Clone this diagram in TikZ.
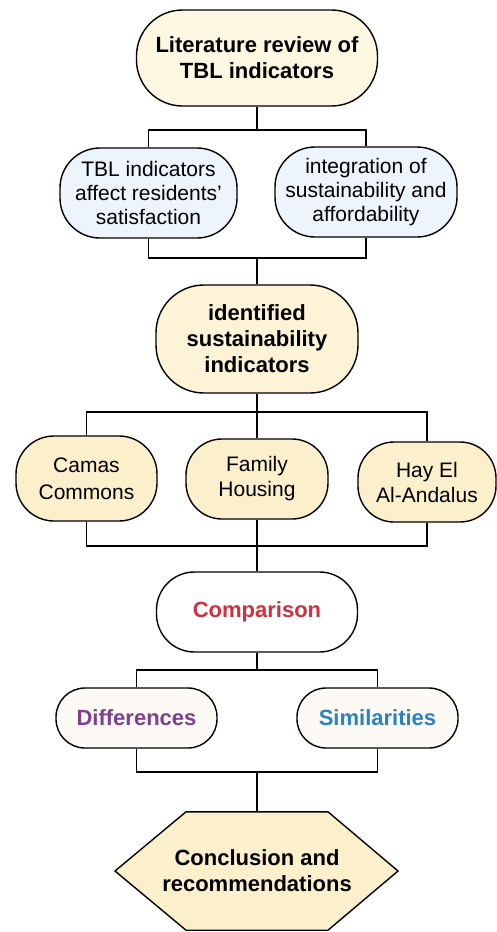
\documentclass[tikz,border=0pt]{standalone}
\usepackage{fontspec}
\setmainfont{Liberation Sans}
\usetikzlibrary{calc,backgrounds}

\definecolor{creamfill}{HTML}{FEF7E2}
\definecolor{bluefill}{HTML}{EEF4FB}
\definecolor{wheatfill}{HTML}{FDF3D6}
\definecolor{sandfill}{HTML}{FCEFCB}
\definecolor{palefill}{HTML}{FDF9F4}
\definecolor{cmpred}{HTML}{D0303F}
\definecolor{diffpurple}{HTML}{7E3F8E}
\definecolor{simblue}{HTML}{2A82C2}

\tikzset{
  pill/.style={draw=black, line width=1.4pt, align=center, inner sep=0pt},
  link/.style={draw=black, line width=1.8pt},
  txt/.style={font=\fontsize{21}{25}\selectfont},
  tighttxt/.style={font=\fontsize{21}{24}\selectfont},
  loosetxt/.style={font=\fontsize{21}{27}\selectfont},
  btxt/.style={font=\fontsize{22}{26}\selectfont\bfseries},
}

\begin{document}
\begin{tikzpicture}[x=1pt,y=1pt]
\useasboundingbox (0,0) rectangle (497,-932);

% stage 1: literature review
\node[pill, fill=creamfill, btxt, minimum width=241, minimum height=96,
      rounded corners=46] (lit) at (257,-58) {Literature review of\\TBL indicators};

% stage 2: two review strands
\node[pill, fill=bluefill, tighttxt, minimum width=177, minimum height=90,
      rounded corners=40] (tbl) at (148.5,-193) {TBL indicators\\affect residents'\\satisfaction};
\node[pill, fill=bluefill, tighttxt, minimum width=182, minimum height=90,
      rounded corners=40] (integ) at (366,-192) {integration of\\sustainability and\\affordability};

% stage 3: identified indicators
\node[pill, fill=wheatfill, btxt, minimum width=202, minimum height=108,
      rounded corners=48] (ident) at (257,-339) {identified\\sustainability\\indicators};

% stage 4: case studies
\node[pill, fill=sandfill, loosetxt, minimum width=141, minimum height=85,
      rounded corners=38] (camas) at (86.5,-478.5) {Camas\\Commons};
\node[pill, fill=sandfill, txt, minimum width=142, minimum height=80,
      rounded corners=36] (family) at (257,-479) {Family\\Housing};
\node[pill, fill=sandfill, txt, minimum width=138, minimum height=80,
      rounded corners=36] (hay) at (427,-482) {Hay El\\Al-Andalus};

% stage 5: comparison
\node[pill, fill=white, btxt, text=cmpred, minimum width=201, minimum height=80,
      rounded corners=38] (cmp) at (257,-612) {Comparison};

\node[pill, fill=palefill, btxt, text=diffpurple, minimum width=161, minimum height=60,
      rounded corners=29] (diff) at (136.5,-718) {Differences};
\node[pill, fill=palefill, btxt, text=simblue, minimum width=161, minimum height=60,
      rounded corners=29] (sim) at (377.5,-718) {Similarities};

% stage 6: conclusion (hexagon drawn around the text node)
\node[btxt, align=center, minimum height=118, inner sep=0pt]
      (concl) at (257,-871) {Conclusion and\\recommendations};
\begin{scope}[on background layer]
  \draw[fill=sandfill, line width=1.4pt, line join=miter]
    ($(concl.north)+(-71,0)$) -- ($(concl.north)+(71,0)$) -- ($(concl.center)+(141,0)$)
    -- ($(concl.south)+(71,0)$) -- ($(concl.south)+(-71,0)$) -- ($(concl.center)+(-142,0)$) -- cycle;
\end{scope}

% junction points of the connectors
\coordinate (j1) at (257,-130);
\coordinate (j2) at (257,-258);
\coordinate (j3) at (257,-412);
\coordinate (j4) at (257,-546);
\coordinate (j5) at (257,-670);
\coordinate (j6) at (257,-772);

% connectors
\draw[link] (lit.south) -- (j1);
\draw[link] (tbl.north) |- (j1) -| (integ.north);
\draw[link] (tbl.south) |- (j2) -| (integ.south);
\draw[link] (j2) -- (ident.north);
\draw[link] (ident.south) -- (family.north);
\draw[link] (camas.north) |- (j3) -| (hay.north);
\draw[link] (camas.south) |- (j4) -| (hay.south);
\draw[link] (family.south) -- (cmp.north);
\draw[link] (cmp.south) -- (j5);
\draw[link] (diff.north) |- (j5) -| (sim.north);
\draw[link] (diff.south) |- (j6) -| (sim.south);
\draw[link] (j6) -- (concl.north);
\end{tikzpicture}
\end{document}
